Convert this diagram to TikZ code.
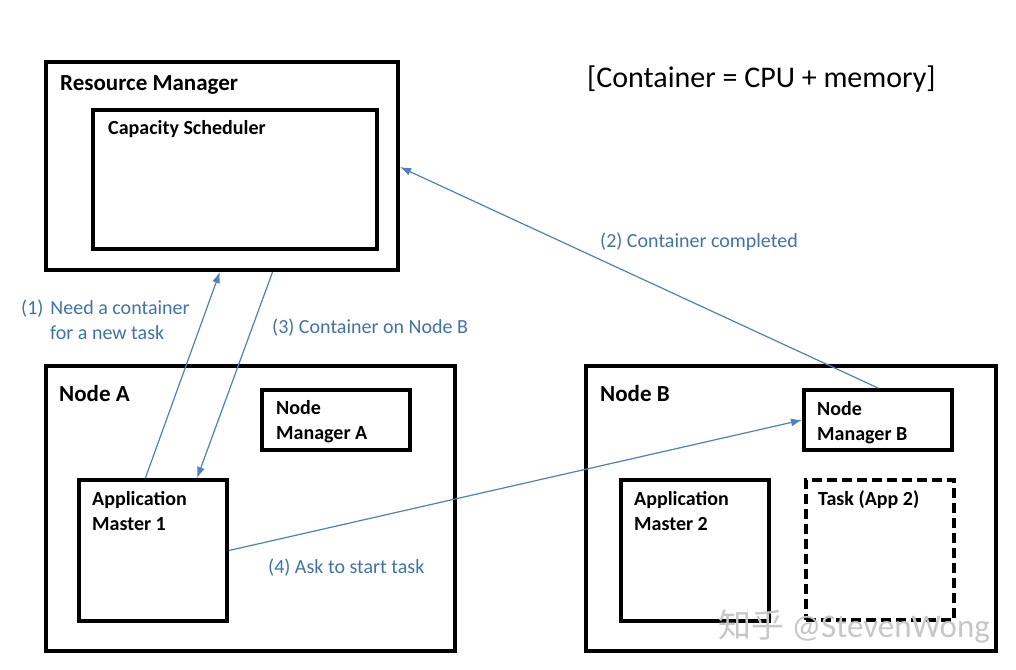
\documentclass[tikz,border=0pt]{standalone}
\usepackage{fontspec}
\setmainfont{Carlito}
\newfontfamily\cjk{Noto Sans CJK SC}
\usetikzlibrary{arrows.meta,calc}
\definecolor{lblblue}{HTML}{3F72AF}
\definecolor{arrblue}{HTML}{4F81BD}
\tikzset{
  box/.style={draw=black, line width=4pt, rectangle, inner sep=0pt, fill=white},
  dashbox/.style={draw=black, line width=4pt, rectangle, inner sep=0pt, dash pattern=on 10pt off 5pt},
  boxtitle/.style={anchor=base west, inner sep=0pt, font=\fontsize{20}{25}\selectfont\bfseries, align=left},
  bigtitle/.style={anchor=base west, inner sep=0pt, font=\fontsize{23}{26}\selectfont\bfseries, align=left},
  lbl/.style={text=lblblue, inner sep=0pt, font=\fontsize{20}{25}\selectfont, align=left, anchor=base west},
  arr/.style={draw=arrblue, line width=1.2pt, -{Latex[length=11pt,width=8pt]}},
}
\begin{document}
\begin{tikzpicture}[x=1pt,y=-1pt]
\useasboundingbox[fill=white] (0,0) rectangle (1016,669);

% Resource manager
\node[box, minimum width=352pt, minimum height=208pt] (rm) at (222,166) {};
\node[bigtitle] (rmt) at (60,90) {Resource Manager};
\node[box, minimum width=284pt, minimum height=139pt] (cs) at (235,179.5) {};
\node[boxtitle] (cst) at (108,134) {Capacity Scheduler};

% container note
\node[inner sep=0pt, font=\fontsize{30}{34}\selectfont, anchor=base west] (note) at (587,87) {[Container = CPU + memory]};

% Node A
\node[box, minimum width=409pt, minimum height=285pt] (na) at (250.5,508.5) {};
\node[bigtitle] (nat) at (59,401) {Node A};
\node[box, minimum width=148pt, minimum height=60pt] (nma) at (336,420) {};
\node[boxtitle] (nmat) at (276,439) {Node\\Manager A};
\node[box, minimum width=148pt, minimum height=141pt] (am1) at (153,550.5) {};
\node[boxtitle] (am1t) at (92,530) {Application\\Master 1};

% Node B
\node[box, minimum width=410pt, minimum height=285pt] (nb) at (791,508.5) {};
\node[bigtitle] (nbt) at (600,401) {Node B};
\node[box, minimum width=148pt, minimum height=60pt] (nmb) at (878,420) {};
\node[boxtitle] (nmbt) at (817,440) {Node\\Manager B};
\node[box, minimum width=148pt, minimum height=141pt] (am2) at (695,550.5) {};
\node[boxtitle] (am2t) at (634,530) {Application\\Master 2};
\node[dashbox, minimum width=148pt, minimum height=140pt] (task) at (880,550) {};
\node[boxtitle] (taskt) at (818,505) {Task (App 2)};

% arrows
\draw[arr] ($(am1.north west)!0.45!(am1.north east)$) -- ($(rm.south west)!0.494!(rm.south east)$);
\draw[arr] ($(rm.south west)!0.642!(rm.south east)$) -- ($(am1.north west)!0.79!(am1.north east)$);
\draw[arr] (nmb.north) -- ($(rm.north east)!0.505!(rm.south east)$);
\draw[arr] (am1.east) -- (nmb.west);

% labels
\node[lbl] (l1) at (21,339) {(1)\hspace{7pt}Need a container\\\hspace{29pt}for a new task};
\node[lbl] (l3) at (272,333) {(3) Container on Node B};
\node[lbl] (l2) at (600,247) {(2) Container completed};
\node[lbl] (l4) at (268,573) {(4) Ask to start task};

% watermark
\node[inner sep=0pt, anchor=base west, text=black!22, font=\fontsize{33}{36}\selectfont] (wm) at (718,637) {{\cjk 知乎} @StevenWong};
\end{tikzpicture}
\end{document}
